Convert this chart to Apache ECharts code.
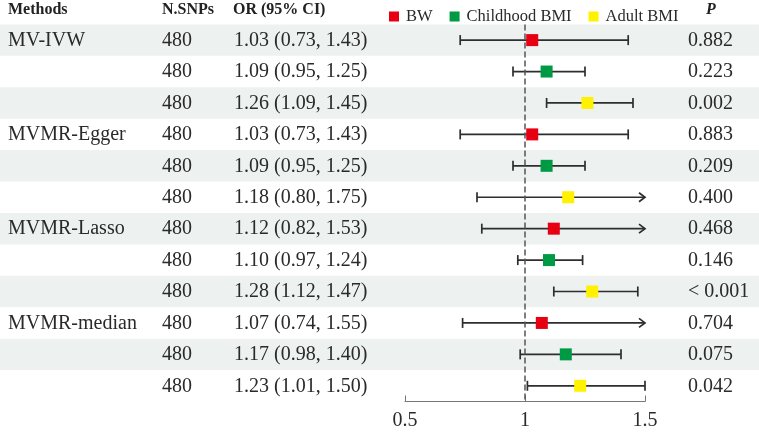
<!DOCTYPE html>
<html>
<head>
  <meta charset="UTF-8">
  <title>MVMR forest plot</title>
  <style>
    body { margin: 0; background: #fff; }
    #main { width: 759px; height: 433px; }
  </style>
</head>
<body>
  <div id="main"></div>
  <script src="https://cdn.jsdelivr.net/npm/echarts@6/dist/echarts.min.js"></script>
  <script>
    // table and forest data, one entry per row (top to bottom)
    const headers = ['Methods', 'N.SNPs', 'OR (95% CI)', 'P'];
    const exposures = ['BW', 'Childhood BMI', 'Adult BMI'];
    const methods = ['MV-IVW', '', '', 'MVMR-Egger', '', '', 'MVMR-Lasso', '', '', 'MVMR-median', '', ''];
    const nsnps = [480, 480, 480, 480, 480, 480, 480, 480, 480, 480, 480, 480];
    const orValues = [1.03, 1.09, 1.26, 1.03, 1.09, 1.18, 1.12, 1.10, 1.28, 1.07, 1.17, 1.23];
    const lower = [0.73, 0.95, 1.09, 0.73, 0.95, 0.80, 0.82, 0.97, 1.12, 0.74, 0.98, 1.01];
    const upper = [1.43, 1.25, 1.45, 1.43, 1.25, 1.75, 1.53, 1.24, 1.47, 1.55, 1.40, 1.50];
    const pValues = ['0.882', '0.223', '0.002', '0.883', '0.209', '0.400', '0.468', '0.146', '< 0.001', '0.704', '0.075', '0.042'];
    const xTicks = [0.5, 1, 1.5];

    const colors = { 'BW': '#e60012', 'Childhood BMI': '#009944', 'Adult BMI': '#fff100' };
    const serif = '"Liberation Serif", "DejaVu Serif", serif';
    const textColor = '#2a2a2a';
    const xMax = xTicks[xTicks.length - 1];

    const rows = orValues.map((v, i) => i + 1);

    const chart = echarts.init(document.getElementById('main'));

    // shaded bands across the full width
    function renderBand(params, api) {
      const row = api.value(1);
      if (row % 2 === 0) return null;
      const c = api.coord([1, row]);
      const h = api.size([0, 1])[1];
      return {
        type: 'rect',
        shape: { x: 0, y: c[1] - h / 2, width: api.getWidth(), height: h },
        style: { fill: '#edf1f0' }
      };
    }

    // left-hand and right-hand table text
    function renderTable(params, api) {
      const i = api.value(2);
      const y = api.coord([1, api.value(1)])[1] + 0.5;
      const font = '20px ' + serif;
      const cell = (text, x) => ({
        type: 'text',
        style: { text: text, x: x, y: y, font: font, fill: textColor, align: 'left', verticalAlign: 'middle' }
      });
      const orText = orValues[i].toFixed(2) + ' (' + lower[i].toFixed(2) + ', ' + upper[i].toFixed(2) + ')';
      return {
        type: 'group',
        children: [
          cell(methods[i], 8),
          cell(String(nsnps[i]), 162),
          cell(orText, 234),
          cell(pValues[i], 688)
        ]
      };
    }

    // confidence interval whiskers, arrow when the interval runs past the axis
    function renderCI(params, api) {
      const row = api.value(0);
      const lo = api.value(1);
      const hi = api.value(2);
      const a = api.coord([lo, row]);
      const b = api.coord([Math.min(hi, xMax), row]);
      const style = { stroke: '#2e2e2e', lineWidth: 1.7, fill: null };
      const cap = 5;
      const children = [
        { type: 'line', shape: { x1: a[0], y1: a[1], x2: b[0], y2: b[1] }, style: style },
        { type: 'line', shape: { x1: a[0], y1: a[1] - cap, x2: a[0], y2: a[1] + cap }, style: style }
      ];
      if (hi > xMax) {
        children.push({
          type: 'polyline',
          shape: { points: [[b[0] - 6, b[1] - 4.5], [b[0], b[1]], [b[0] - 6, b[1] + 4.5]] },
          style: style
        });
      } else {
        children.push({ type: 'line', shape: { x1: b[0], y1: b[1] - cap, x2: b[0], y2: b[1] + cap }, style: style });
      }
      return { type: 'group', children: children };
    }

    const pointSeries = exposures.map((name, k) => ({
      name: name,
      type: 'scatter',
      symbol: 'rect',
      symbolSize: 12,
      z: 5,
      itemStyle: { color: colors[name], opacity: 1 },
      emphasis: { disabled: true },
      data: rows.filter(r => (r - 1) % 3 === k).map(r => [orValues[r - 1], r])
    }));

    chart.setOption({
      animation: false,
      grid: { left: 405, right: 114, top: 24.4, bottom: 31.5 },
      legend: {
        data: exposures,
        left: 384,
        top: 3,
        icon: 'rect',
        itemWidth: 10,
        itemHeight: 10,
        itemGap: 17,
        textStyle: { fontFamily: serif, fontSize: 16.5, color: textColor, padding: [0, 0, 0, 2] }
      },
      graphic: [
        { type: 'text', left: 8, top: 2, style: { text: headers[0], font: 'bold 16px ' + serif, fill: '#222' } },
        { type: 'text', left: 162, top: 2, style: { text: headers[1], font: 'bold 16px ' + serif, fill: '#222' } },
        { type: 'text', left: 233, top: 2, style: { text: headers[2], font: 'bold 16px ' + serif, fill: '#222' } },
        { type: 'text', left: 706, top: 2, style: { text: headers[3], font: 'italic bold 16px ' + serif, fill: '#222' } }
      ],
      xAxis: {
        type: 'value',
        min: xTicks[0],
        max: xMax,
        interval: 0.5,
        splitLine: { show: false },
        axisLine: { lineStyle: { color: '#777', width: 1 } },
        axisTick: { inside: true, length: 6, lineStyle: { color: '#777' } },
        axisLabel: { fontFamily: serif, fontSize: 20, color: textColor, margin: 9 }
      },
      yAxis: {
        type: 'value',
        inverse: true,
        min: 0.5,
        max: 12.5,
        show: false
      },
      series: [
        {
          type: 'custom',
          z: 0,
          silent: true,
          renderItem: renderBand,
          encode: { x: 0, y: 1 },
          data: rows.map(r => [1, r])
        },
        {
          type: 'custom',
          z: 3,
          silent: true,
          renderItem: renderTable,
          encode: { x: 0, y: 1 },
          data: rows.map((r, i) => [1, r, i])
        },
        {
          type: 'custom',
          z: 4,
          silent: true,
          renderItem: renderCI,
          encode: { x: [1, 2], y: 0 },
          data: rows.map((r, i) => [r, lower[i], upper[i]]),
          markLine: {
            silent: true,
            symbol: 'none',
            label: { show: false },
            lineStyle: { color: '#555', width: 1.5, type: [6, 3] },
            data: [{ xAxis: 1 }]
          }
        }
      ].concat(pointSeries)
    });
  </script>
</body>
</html>
